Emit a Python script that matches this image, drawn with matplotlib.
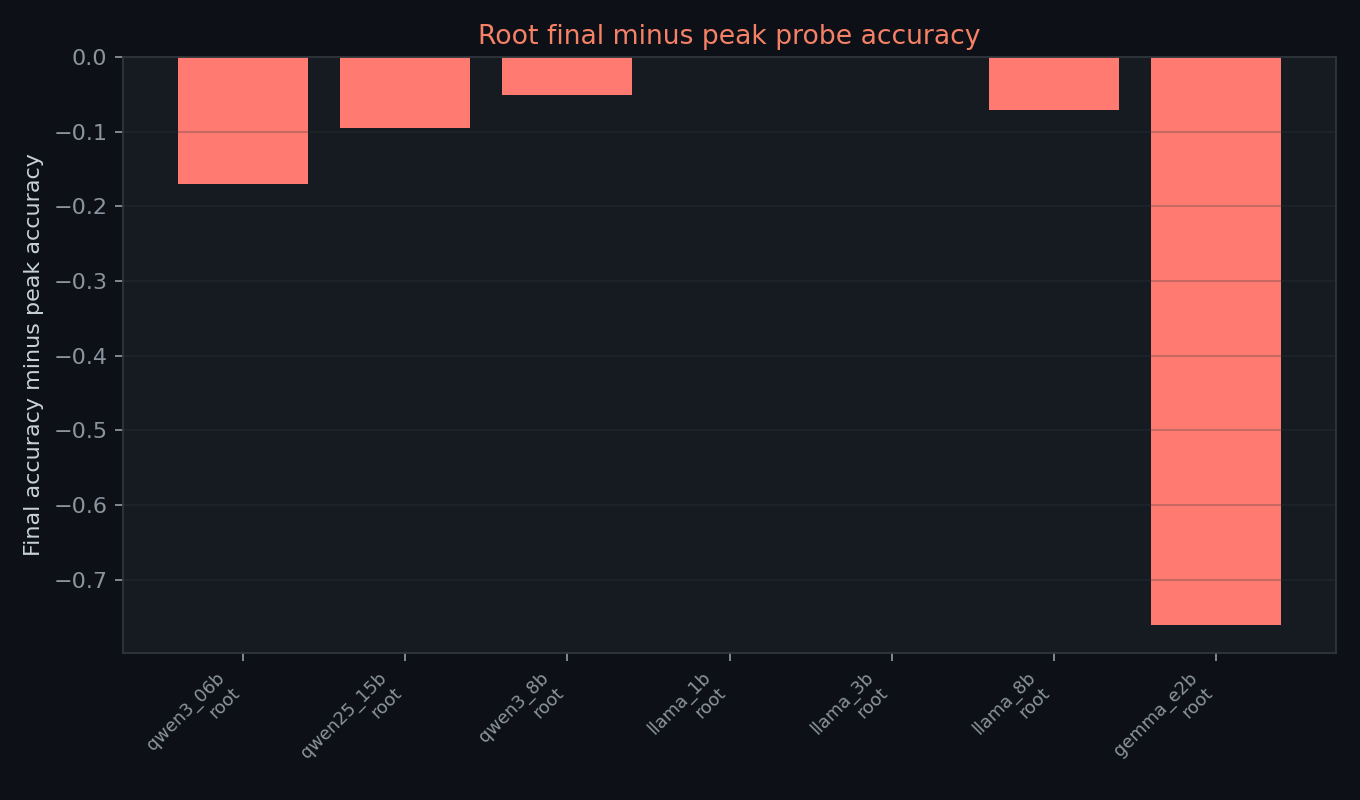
import matplotlib
matplotlib.use("Agg")
import matplotlib.pyplot as plt
import numpy as np

models = ["qwen3_06b", "qwen25_15b", "qwen3_8b", "llama_1b", "llama_3b", "llama_8b", "gemma_e2b"]
probe = ["root"] * 7
delta = [-0.170, -0.095, -0.051, 0.0, 0.0, -0.071, -0.760]

labels = [f"{m}\n{p}" for m, p in zip(models, probe)]

FIG_BG = "#0d1117"
AX_BG = "#161b22"
BAR = "#ff7b72"
TITLE = "#f78166"
SPINE = "#30363d"
TICK = "#8b949e"
LABEL = "#c9d1d9"

DPI = 160
fig = plt.figure(figsize=(1360 / DPI, 800 / DPI), dpi=DPI, facecolor=FIG_BG)
ax = fig.add_axes([123 / 1360, 1 - 653 / 800, (1336 - 123) / 1360, (653 - 57) / 800])
ax.set_facecolor(AX_BG)

x = np.arange(len(labels))
ax.bar(x, delta, color=BAR, width=0.8)

ax.set_xticks(x)
ax.set_xticklabels(labels, rotation=45, ha="right", fontsize=8, color=TICK)
ax.tick_params(axis="y", colors=TICK, labelsize=10)
ax.tick_params(axis="x", colors=TICK)
for s in ax.spines.values():
    s.set_color(SPINE)
ax.yaxis.grid(True, color=SPINE, alpha=0.3, linewidth=0.8)
ax.set_ylabel("Final accuracy minus peak accuracy", color=LABEL, fontsize=10)
ax.set_title("Root final minus peak probe accuracy", color=TITLE, fontsize=12)

fig.savefig("out.png", dpi=DPI, facecolor=FIG_BG)
